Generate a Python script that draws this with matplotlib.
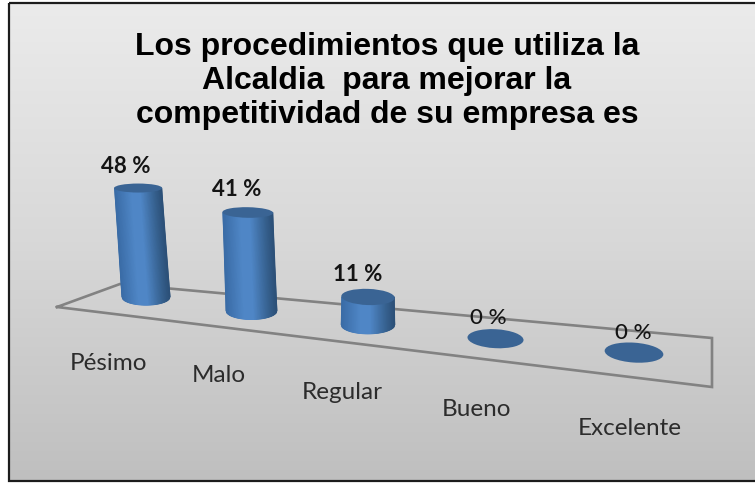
import numpy as np
import matplotlib
matplotlib.use("Agg")
import matplotlib.pyplot as plt
from matplotlib.colors import LinearSegmentedColormap
from matplotlib.patches import Ellipse, Rectangle

# Survey results
categories = ["Pésimo", "Malo", "Regular", "Bueno", "Excelente"]
percentages = [48, 41, 11, 0, 0]
value_labels = ["48 %", "41 %", "11 %", "0 %", "0 %"]
title_lines = [
    "Los procedimientos que utiliza la",
    "Alcaldia  para mejorar la",
    "competitividad de su empresa es",
]

# Pseudo-3D scene geometry, in figure pixels measured from the top left
FLOOR = [(57, 308), (120, 285), (712, 339), (712, 388), (57, 308)]
VALUE_OFFSETS = [(-12, -23), (-11, -24), (-10, -23), (-7, -22), (-1, -21)]
CATEGORY_OFFSETS = [(-38, 66), (-33, 64), (-26, 67), (-19, 70), (-4, 75)]
VANISH_X = 365


def base_center(i):
    return 146 + 100 * i + 5.5 * i ** 2, 298 + 13.9 * i


def body_width(i):
    return 48 + 2.7 * i


def units_per_percent(i):
    return 2.27 + 0.13 * i


def ellipse_ry(y):
    return 4.5 + (y - 189) * 0.033


fig = plt.figure(figsize=(7.55, 4.85), dpi=100, facecolor="white")
ax = fig.add_axes([0, 0, 1, 1])
ax.axis("off")

# Panel background with a vertical grey fade; the border runs off the right edge
fade = LinearSegmentedColormap.from_list("fade", ["#ebebeb", "#d8d8d8", "#bfbfbf"])
ax.imshow(np.linspace(0, 1, 256).reshape(-1, 1), cmap=fade, aspect="auto",
          extent=(9, 757, 482, 4), zorder=0)
ax.set_xlim(0, 755)
ax.set_ylim(485, 0)
ax.add_patch(Rectangle((9, 4), 748, 478, fill=False, ec="#1c1c1c", lw=1.6, zorder=10))

# Floor outline
ax.plot(*zip(*FLOOR), color="#828282", lw=1.9, zorder=1, solid_joinstyle="miter")

shade = LinearSegmentedColormap.from_list(
    "cylinder",
    [(0.0, "#3a6ca6"), (0.35, "#4f86c6"), (0.55, "#4f86c6"),
     (0.85, "#36618f"), (1.0, "#2c5078")],
)
CAP = "#3a6494"

for i, (name, pct, label) in enumerate(zip(categories, percentages, value_labels)):
    bx, by = base_center(i)
    width = body_width(i)
    height = pct * units_per_percent(i)
    top_y = by - height
    top_x = bx + (bx - VANISH_X) * 3.3e-4 * height
    tilt = 1.0 * i

    if pct > 0:
        # Cylinder wall: shaded strip closed by the lower ellipse arc
        t = np.linspace(-1, 1, 61)
        ry = ellipse_ry(by)
        X = np.vstack([top_x + t * (width - 1) / 2, bx + t * width / 2])
        Y = np.vstack([np.full_like(t, top_y), by + ry * np.sqrt(1 - t ** 2)])
        C = np.tile((t + 1) / 2, (2, 1))
        ax.pcolormesh(X, Y, C, cmap=shade, vmin=0, vmax=1, shading="gouraud",
                      zorder=2 + i)

    ax.add_patch(Ellipse((top_x, top_y), width, 2 * ellipse_ry(top_y), angle=tilt,
                         fc=CAP, ec="none", zorder=2 + i))

    dx, dy = VALUE_OFFSETS[i]
    ax.text(top_x + dx, top_y + dy, label, ha="center", va="center",
            family="Lato", fontsize=16, color="#141414",
            fontweight="bold" if pct > 0 else "medium", zorder=20)

    dx, dy = CATEGORY_OFFSETS[i]
    ax.text(bx + dx, by + dy, name, ha="center", va="center",
            family="Lato", fontsize=17.5, color="#2c2c2c", zorder=20)

for line, y in zip(title_lines, (47, 81, 115)):
    ax.text(387, y, line, ha="center", va="center", family="Liberation Sans",
            fontweight="bold", fontsize=23, color="black", zorder=20)

fig.savefig("out.png", dpi=100)
